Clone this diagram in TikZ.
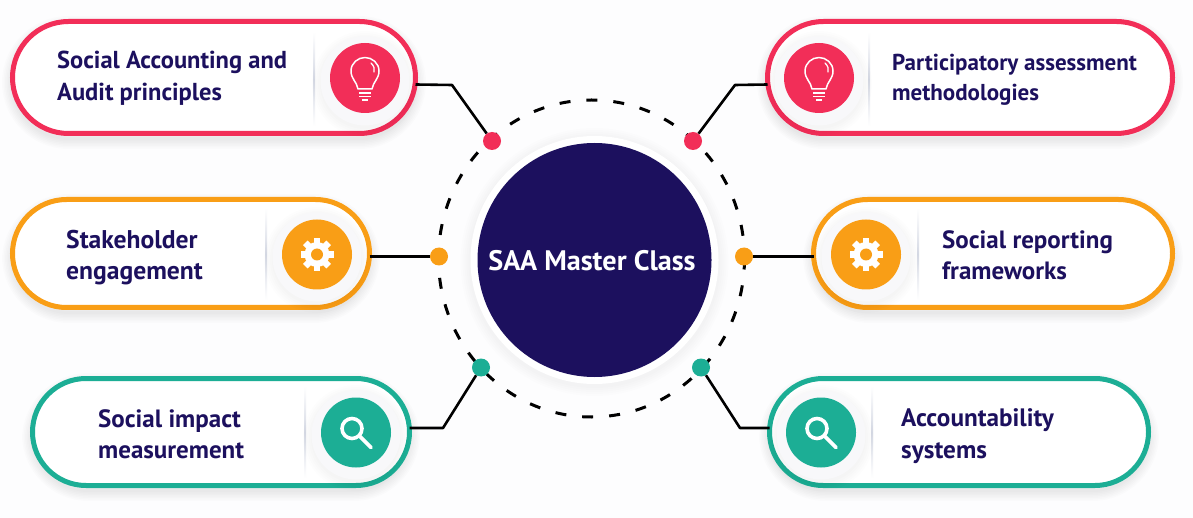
\documentclass[tikz,border=0pt]{standalone}
\usepackage{fontspec}
\setmainfont{PT Sans}
\usetikzlibrary{shapes.misc}
\definecolor{redc}{HTML}{F22E58}
\definecolor{orangec}{HTML}{F99E16}
\definecolor{tealc}{HTML}{1CAE95}
\definecolor{navyc}{HTML}{1C105E}
\definecolor{bgc}{HTML}{FDFDFE}
\definecolor{haloc}{HTML}{F8F8FA}
\definecolor{divc}{HTML}{D5D9E4}
\newcommand{\softpill}[4]{%
  \foreach \w in {3,6,...,21}{\draw[black,opacity=.012,line width=\w pt,rounded corners=56pt] (#1,#2+5) rectangle (#3,#4+5);}}
\newcommand{\softdisc}[3]{%
  \foreach \w in {2,4,...,10}{\fill[black,opacity=.007] (#1,#2+2) circle (#3+\w);}}
\newcommand{\divider}[3]{%
  \shade[top color=white,bottom color=white,middle color=divc] (#1-1,#2) rectangle (#1+1,#3);}
\tikzset{
  x=1pt,y=-1pt,
  pill/.style={rounded rectangle,draw=#1,line width=5pt,fill=white,inner sep=0pt,outer sep=0pt},
  halo/.style={circle,fill=haloc,minimum size=89pt,inner sep=0pt},
  badge/.style={circle,fill=#1,minimum size=70pt,inner sep=0pt},
  dotn/.style={circle,fill=#1,minimum size=18pt,inner sep=0pt},
  label/.style={anchor=west,align=left,text=navyc,font=\fontsize{#1}{31.5}\selectfont\bfseries,inner sep=0pt},
  conn/.style={draw=black,line width=2.6pt,line join=round},
  pics/bulb/.style={code={
    \draw[white,line width=1.5pt,line join=round] (-7,11) .. controls (-8,4) and (-14,1) .. (-14,-7) .. controls (-14,-15) and (-7,-20.5) .. (0,-20.5) .. controls (7,-20.5) and (14,-15) .. (14,-7) .. controls (14,1) and (8,4) .. (7,11) -- cycle;
    \draw[white,line width=1.3pt,line cap=round] (6,-15) .. controls (9,-12) and (10,-9) .. (9,-6);
    \draw[white,line width=1.6pt] (-6,15) -- (6,15) (-6,18.5) -- (6,18.5) (-3,22) -- (3,22);
  }},
  pics/gear/.style={code={
    \fill[white] (0,0) circle (12.5);
    \foreach \a in {0,45,...,315}{\fill[white,rotate=\a] (-3.2,-16.5) rectangle (3.2,-9);}
    \fill[#1] (0,0) circle (6);
  }},
  pics/lens/.style={code={
    \draw[white,line width=3.6pt] (-4,-4) circle (10);
    \draw[white,line width=3.8pt,line cap=round] (3.5,3.5) -- (15,15);
  }}
}
\begin{document}
\begin{tikzpicture}
\useasboundingbox (0,0) rectangle (1193,518);
\fill[bgc] (0,0) rectangle (1193,518);
% soft shadows
\softpill{12.5}{21.5}{415.5}{133.5}
\softpill{12.5}{199.5}{369.5}{307.5}
\softpill{32.5}{378.5}{409.5}{485.5}
\softpill{767.5}{21.5}{1172.5}{133.5}
\softpill{813.5}{199.5}{1172.5}{307.5}
\softpill{769.5}{378.5}{1148.5}{485.5}
% dashed ring
\draw[black,line width=3pt,dash pattern=on 11pt off 16pt] (591.5,258.5) ellipse [x radius=153,y radius=158.5];
% centre
\softdisc{594.5}{260}{124}
\fill[white] (594.5,260) circle (124);
\node[circle,fill=navyc,minimum size=234pt,inner sep=0pt] (hubdisc) at (594.5,260) {};
\node[text=white,font=\fontsize{28.2}{32}\selectfont\bfseries,inner sep=0pt] (hub) at (592,261) {SAA Master Class};
% pills
\node[pill=redc,minimum width=403pt,minimum height=112pt] (p1) at (214,77.5) {};
\node[pill=orangec,minimum width=357pt,minimum height=108pt] (p2) at (191,253.5) {};
\node[pill=tealc,minimum width=377pt,minimum height=107pt] (p3) at (221,432) {};
\node[pill=redc,minimum width=405pt,minimum height=112pt] (p4) at (970,77.5) {};
\node[pill=orangec,minimum width=359pt,minimum height=108pt] (p5) at (993,253.5) {};
\node[pill=tealc,minimum width=379pt,minimum height=107pt] (p6) at (959,432) {};
% dividers
\divider{314}{32}{126}
\divider{266}{208}{300}
\divider{305}{386}{478}
\divider{869}{32}{126}
\divider{918}{208}{300}
\divider{872}{386}{478}
% halos and badges
\softdisc{365}{82}{43}
\node[halo] (h1) at (365,81) {};
\node[badge=redc] (b1) at (365,78) {};
\pic at (b1) {bulb};
\softdisc{317}{258}{43}
\node[halo] (h2) at (317,257) {};
\node[badge=orangec] (b2) at (317,254.5) {};
\pic at (b2) {gear=orangec};
\softdisc{356}{436}{43}
\node[halo] (h3) at (356,435) {};
\node[badge=tealc] (b3) at (356,432.5) {};
\pic at (b3) {lens};
\softdisc{819}{82}{43}
\node[halo] (h4) at (819,81) {};
\node[badge=redc] (b4) at (819,78) {};
\pic at (b4) {bulb};
\softdisc{866}{258}{43}
\node[halo] (h5) at (866,257) {};
\node[badge=orangec] (b5) at (866,254.5) {};
\pic at (b5) {gear=orangec};
\softdisc{821}{436}{43}
\node[halo] (h6) at (821,435) {};
\node[badge=tealc] (b6) at (821,432.5) {};
\pic at (b6) {lens};
% labels
\node[label=24.5] (t1) at (57,78) {Social Accounting and\\Audit principles};
\node[label=25.6] (t2) at (66,257.5) {Stakeholder\\engagement};
\node[label=25] (t3) at (98,434) {Social impact\\measurement};
\node[label=23] (t4) at (892,80) {Participatory assessment\\[-2pt]methodologies};
\node[label=25] (t5) at (942,255.5) {Social reporting\\frameworks};
\node[label=25.2] (t6) at (901,436) {Accountability\\systems};
% dots
\node[dotn=redc] (d1) at (492,141) {};
\node[dotn=orangec] (d2) at (439,256.5) {};
\node[dotn=tealc] (d3) at (481,367.5) {};
\node[dotn=redc] (d4) at (693,141) {};
\node[dotn=orangec] (d5) at (744,256.5) {};
\node[dotn=tealc] (d6) at (701,367.5) {};
% connector bends
\coordinate (c1) at (452,85);
\coordinate (c3) at (443,428);
\coordinate (c4) at (735,85);
\coordinate (c6) at (740,428);
% connectors
\draw[conn] ([yshift=-7pt]p1.east) -- (c1) -- (d1);
\draw[conn] (p2.east |- d2) -- (d2);
\draw[conn] ([yshift=4pt]p3.east) -- (c3) -- (d3);
\draw[conn] ([yshift=-7pt]p4.west) -- (c4) -- (d4);
\draw[conn] (p5.west |- d5) -- (d5);
\draw[conn] ([yshift=4pt]p6.west) -- (c6) -- (d6);
\end{tikzpicture}
\end{document}
